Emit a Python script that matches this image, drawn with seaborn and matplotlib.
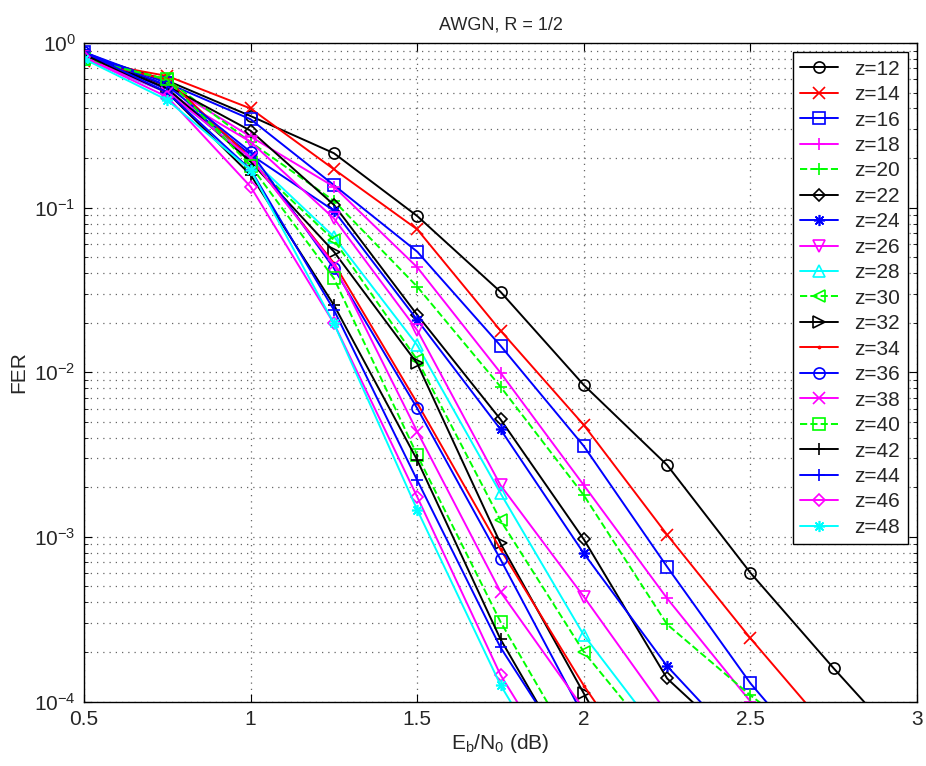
import matplotlib
matplotlib.use("Agg")
import matplotlib.pyplot as plt
import seaborn as sns
from matplotlib.ticker import LogLocator, NullFormatter, FormatStrFormatter

# Eb/N0 grid (dB)
ebno = [0.5, 0.75, 1.0, 1.25, 1.5, 1.75, 2.0, 2.25, 2.5, 2.75, 3.0]
xticks = [0.5, 1.0, 1.5, 2.0, 2.5, 3.0]

# FER por tamanho de expansao z
fer_z12 = [0.85, 0.59, 0.36, 0.214, 0.0889, 0.0308, 0.00836, 0.00273, 6.05e-4, 1.59e-4, 4.4e-5]
fer_z14 = [0.78, 0.63, 0.40, 0.171, 0.0738, 0.0179, 0.00478, 0.00103, 2.42e-4, 6.2e-5]
fer_z16 = [0.88, 0.57, 0.344, 0.137, 0.054, 0.0145, 0.00356, 6.58e-4, 1.29e-4, 3.3e-5]
fer_z18 = [0.82, 0.55, 0.27, 0.134, 0.0434, 0.00993, 0.00206, 4.23e-4, 1.0e-4, 2.5e-5]
fer_z20 = [0.80, 0.60, 0.25, 0.11, 0.0331, 0.00817, 0.00179, 2.94e-4, 1.09e-4, 4.5e-5]
fer_z22 = [0.85, 0.55, 0.293, 0.104, 0.0223, 0.00517, 9.66e-4, 1.38e-4, 4.7e-5]
fer_z24 = [0.88, 0.52, 0.21, 0.0958, 0.0208, 0.0045, 7.94e-4, 1.64e-4, 4.7e-5]
fer_z26 = [0.82, 0.50, 0.251, 0.086, 0.018, 0.00206, 4.33e-4, 8.5e-5]
fer_z28 = [0.80, 0.50, 0.20, 0.0666, 0.0146, 0.00184, 2.53e-4, 5.5e-5]
fer_z30 = [0.80, 0.60, 0.19, 0.0636, 0.0119, 0.00126, 2.0e-4, 4.8e-5]
fer_z32 = [0.85, 0.53, 0.19, 0.054, 0.0113, 9.12e-4, 1.12e-4, 1.4e-5]
fer_z34 = [0.78, 0.60, 0.20, 0.046, 0.0065, 8.4e-4, 1.25e-4, 2.3e-5]
fer_z36 = [0.88, 0.55, 0.218, 0.0428, 0.00604, 7.3e-4, 8.1e-5]
fer_z38 = [0.82, 0.50, 0.20, 0.045, 0.00436, 4.64e-4, 9.0e-5]
fer_z40 = [0.80, 0.60, 0.18, 0.0372, 0.00314, 3.05e-4, 4.1e-5]
fer_z42 = [0.85, 0.50, 0.158, 0.0256, 0.00293, 2.39e-4, 3.2e-5]
fer_z44 = [0.88, 0.50, 0.17, 0.0239, 0.00221, 2.13e-4, 3.5e-5]
fer_z46 = [0.82, 0.47, 0.134, 0.0198, 0.00175, 1.45e-4, 2.2e-5]
fer_z48 = [0.80, 0.45, 0.169, 0.0198, 0.00146, 1.26e-4, 1.8e-5]

labels = ['z=12', 'z=14', 'z=16', 'z=18', 'z=20', 'z=22', 'z=24', 'z=26', 'z=28', 'z=30',
          'z=32', 'z=34', 'z=36', 'z=38', 'z=40', 'z=42', 'z=44', 'z=46', 'z=48']
series = [fer_z12, fer_z14, fer_z16, fer_z18, fer_z20, fer_z22, fer_z24, fer_z26, fer_z28, fer_z30,
          fer_z32, fer_z34, fer_z36, fer_z38, fer_z40, fer_z42, fer_z44, fer_z46, fer_z48]

# estilo MATLAB
K, R, B, M, G, C = '#000000', '#ff0000', '#0000ff', '#ff00ff', '#00ff00', '#00ffff'
colors = [K, R, B, M, G, K, B, M, C, G, K, R, B, M, G, K, B, M, C]
ASTER = (8, 2, 0)  # asterisco estilo MATLAB
markers = ['o', 'x', 's', '+', '+', 'D', ASTER, 'v', '^', '<',
           '>', '.', 'o', 'x', 's', '+', '+', 'D', ASTER]

sns.set_style('ticks')
plt.rcParams['font.family'] = ['Liberation Sans', 'DejaVu Sans']
plt.rcParams['mathtext.fontset'] = 'custom'
plt.rcParams['mathtext.rm'] = 'Liberation Sans'
plt.rcParams['mathtext.it'] = 'Liberation Sans:italic'

fig = plt.figure(figsize=(9.26, 7.66), dpi=100)
ax = fig.add_axes([0.0907, 0.0842, 0.8996, 0.8597])

for lab, fer, c, m in zip(labels, series, colors, markers):
    ls = '--' if c == G else '-'
    ms = 8
    if m == 'D':
        ms = 6.5
    if m == '.':
        ms = 3
    sns.lineplot(x=ebno[:len(fer)], y=fer, ax=ax, color=c, marker=m, linestyle=ls,
                 markersize=ms, markerfacecolor='none' if m != '.' else c,
                 markeredgecolor=c, markeredgewidth=1.2, linewidth=1.4,
                 label=lab, estimator=None, sort=False)

ax.set_yscale('log')
ax.set_xlim(0.5, 3)
ax.set_ylim(1e-4, 1)
ax.set_xticks(xticks)
ax.xaxis.set_major_formatter(FormatStrFormatter('%g'))
ax.yaxis.set_major_locator(LogLocator(base=10))
ax.yaxis.set_minor_locator(LogLocator(base=10, subs=range(2, 10)))
ax.yaxis.set_minor_formatter(NullFormatter())

gkw = dict(linestyle=(0, (1, 4)), color='0.4', linewidth=0.9)
ax.grid(True, which='major', axis='both', **gkw)
ax.grid(True, which='minor', axis='y', **gkw)
ax.tick_params(which='both', direction='in', top=True, right=True, labelsize=15, color='k')
ax.tick_params(which='major', length=6, pad=6)
ax.tick_params(which='minor', length=3)
for s in ax.spines.values():
    s.set_color('k')
    s.set_linewidth(1.0)

ax.set_title('AWGN, R = 1/2', fontsize=13, pad=10)
ax.set_xlabel(r'$\mathregular{E_b/N_0}$ (dB)', fontsize=15, labelpad=2)
ax.set_ylabel('FER', fontsize=15, labelpad=4)

ax.legend(loc='upper right', fontsize=15, frameon=True, fancybox=False, edgecolor='k',
          framealpha=1, borderaxespad=0.45, handlelength=1.8, handletextpad=0.8,
          labelspacing=0.31, borderpad=0.35)

fig.savefig('out.png', dpi=100)
